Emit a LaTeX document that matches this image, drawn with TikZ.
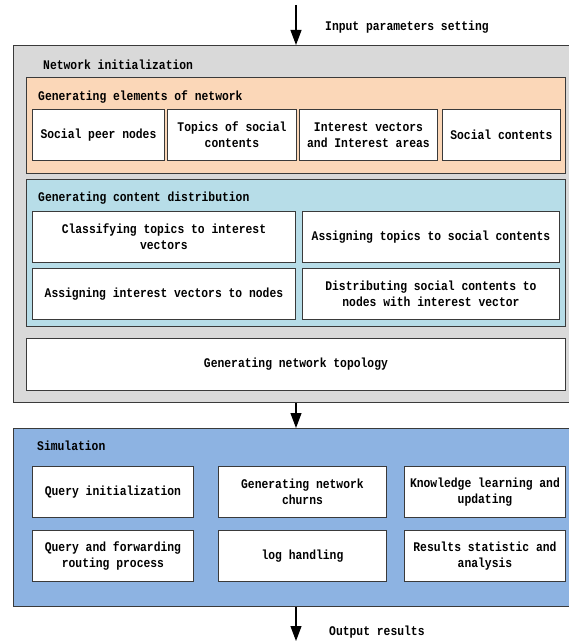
\documentclass[tikz,border=0pt]{standalone}
\usepackage{fontspec}
\setmonofont{Liberation Mono}[FakeStretch=0.86]
\usetikzlibrary{arrows.meta}
\definecolor{panelgray}{HTML}{D9D9D9}
\definecolor{peach}{HTML}{FBD7B8}
\definecolor{paleblue}{HTML}{B7DDE8}
\definecolor{simblue}{HTML}{8DB3E2}
\definecolor{edge}{HTML}{3A3A3A}
\begin{document}
\begin{tikzpicture}[x=1pt,y=-1pt,
  every node/.style={font=\fontsize{13.2}{16}\selectfont\ttfamily\bfseries},
  panel/.style={draw=edge,line width=0.9pt,anchor=north west,inner sep=0pt},
  stepbox/.style={draw=edge,fill=white,line width=0.9pt,anchor=north west,
    align=center,inner sep=0pt},
  heading/.style={anchor=west,inner sep=0pt},
  arr/.style={line width=1.1pt,-{Triangle[width=11pt,length=15pt]}}]
\useasboundingbox (0,0) rectangle (568,642);

% Network initialization stage
\node[panel,fill=panelgray,minimum width=560pt,minimum height=357pt] (ninit) at (13,45) {};
\node[heading] (tinit) at (43,65) {Network initialization};

\node[panel,fill=peach,minimum width=539pt,minimum height=96pt] (elem) at (26,77) {};
\node[heading] (telem) at (38,97) {Generating elements of network};
\node[stepbox,minimum width=132pt,minimum height=51pt] (e1) at (32,109) {Social peer nodes};
\node[stepbox,minimum width=129pt,minimum height=51pt] (e2) at (167,109) {Topics of social\\contents};
\node[stepbox,minimum width=138pt,minimum height=51pt] (e3) at (299,109) {Interest vectors\\and Interest areas};
\node[stepbox,minimum width=118pt,minimum height=51pt] (e4) at (442,109) {Social contents};

\node[panel,fill=paleblue,minimum width=539pt,minimum height=147pt] (dist) at (26,179) {};
\node[heading] (tdist) at (38,198) {Generating content distribution};
\node[stepbox,minimum width=263pt,minimum height=51pt] (d1) at (32,211) {Classifying topics to interest\\vectors};
\node[stepbox,minimum width=257pt,minimum height=51pt] (d2) at (302,211) {Assigning topics to social contents};
\node[stepbox,minimum width=263pt,minimum height=51pt] (d3) at (32,268) {Assigning interest vectors to nodes};
\node[stepbox,minimum width=257pt,minimum height=51pt] (d4) at (302,268) {Distributing social contents to\\nodes with interest vector};

\node[stepbox,minimum width=539pt,minimum height=52pt] (topo) at (26,338) {Generating network topology};

% Simulation stage
\node[panel,fill=simblue,minimum width=560pt,minimum height=178pt] (sim) at (13,428) {};
\node[heading] (tsim) at (37,446) {Simulation};
\node[stepbox,minimum width=161pt,minimum height=51pt] (s1) at (32,466) {Query initialization};
\node[stepbox,minimum width=168pt,minimum height=51pt] (s2) at (218,466) {Generating network\\churns};
\node[stepbox,minimum width=161pt,minimum height=51pt] (s3) at (404,466) {Knowledge learning and\\updating};
\node[stepbox,minimum width=161pt,minimum height=51pt] (s4) at (32,530) {Query and forwarding\\routing process};
\node[stepbox,minimum width=168pt,minimum height=51pt] (s5) at (218,530) {log handling};
\node[stepbox,minimum width=161pt,minimum height=51pt] (s6) at (404,530) {Results statistic and\\analysis};

% flow arrows and their labels
\coordinate (start) at (296,5);
\coordinate (finish) at (296,641);
\draw[arr] (start) -- (start |- ninit.north);
\draw[arr] (start |- ninit.south) -- (start |- sim.north);
\draw[arr] (start |- sim.south) -- (finish);
\node[heading] (lin) at (325,27) {Input parameters setting};
\node[heading] (lout) at (329,632) {Output results};
\end{tikzpicture}
\end{document}
